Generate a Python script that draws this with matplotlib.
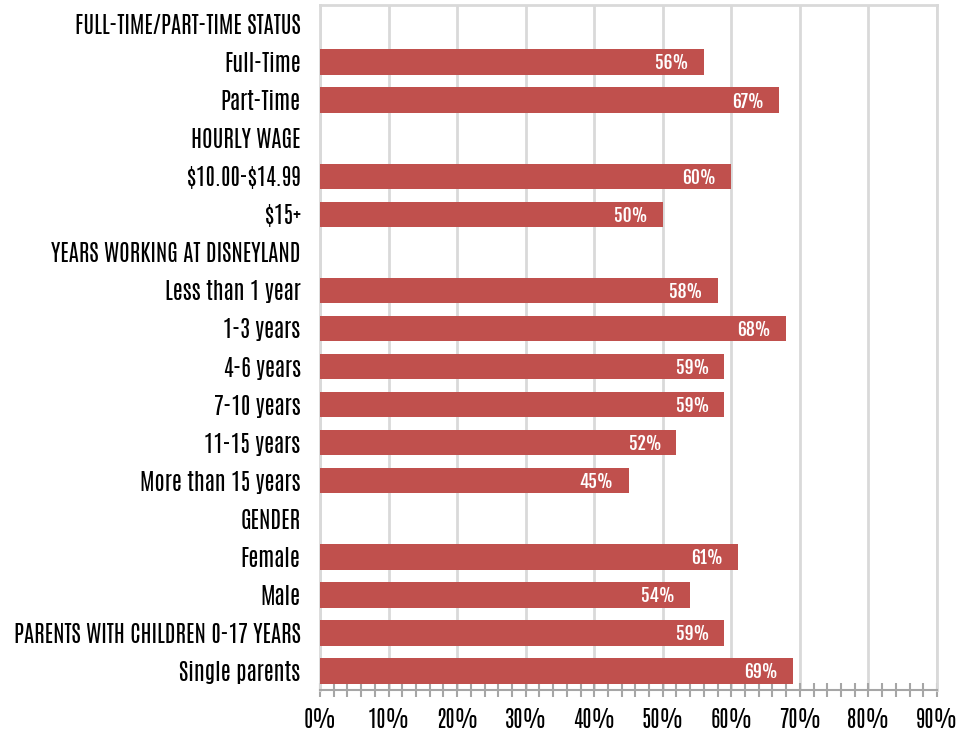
import matplotlib
matplotlib.use("Agg")
import matplotlib.pyplot as plt
from matplotlib.ticker import MultipleLocator, PercentFormatter

plt.rcParams['font.family'] = ['Antonio', 'DejaVu Sans']

categories = [
    "FULL-TIME/PART-TIME STATUS", "Full-Time", "Part-Time",
    "HOURLY WAGE", "\\$10.00-\\$14.99", "\\$15+",
    "YEARS WORKING AT DISNEYLAND", "Less than 1 year", "1-3 years",
    "4-6 years", "7-10 years", "11-15 years", "More than 15 years",
    "GENDER", "Female", "Male",
    "PARENTS WITH CHILDREN 0-17 YEARS", "Single parents",
]
# None marks a section heading row without a bar
values = [None, 56, 67, None, 60, 50, None, 58, 68, 59, 59, 52, 45,
          None, 61, 54, 59, 69]
x_ticks = [0, 10, 20, 30, 40, 50, 60, 70, 80, 90]

bar_color = "#C0504D"
grid_color = "#D9D9D9"
axis_color = "#A6A6A6"

fig = plt.figure(figsize=(9.63, 7.38), dpi=100)
ax = fig.add_axes([320 / 963, 1 - 690 / 738, 617 / 963, 685 / 738])

rows = [i for i, v in enumerate(values) if v is not None]
vals = [values[i] for i in rows]
ax.barh(rows, vals, height=0.67, color=bar_color, zorder=3)

for r, v in zip(rows, vals):
    ax.annotate(f"{v}%", xy=(v, r), xytext=(-11, -1), textcoords="offset points",
                ha="right", va="center", color="white", fontsize=12.5,
                family=["Fjalla One", "Antonio", "DejaVu Sans"],
                fontweight="bold", zorder=4)

ax.set_xlim(0, 90)
ax.set_ylim(len(categories) - 0.5, -0.5)
ax.set_yticks(range(len(categories)))
ax.set_yticklabels(categories)
ax.set_xticks(x_ticks)
ax.xaxis.set_major_formatter(PercentFormatter(decimals=0))
ax.xaxis.set_minor_locator(MultipleLocator(2))

ax.tick_params(axis="y", length=0, pad=14, labelsize=16.5, colors="black")
ax.tick_params(axis="x", which="both", direction="inout", length=10, width=1.5,
               color=axis_color, pad=8, labelsize=16, labelcolor="black")

ax.grid(axis="x", which="major", color=grid_color, linewidth=2, zorder=0)
for side in ["left", "top", "right"]:
    ax.spines[side].set_color(grid_color)
    ax.spines[side].set_linewidth(2)
ax.spines["bottom"].set_color(axis_color)
ax.spines["bottom"].set_linewidth(1.5)
ax.spines["bottom"].set_zorder(5)

fig.savefig("out.png", dpi=100)
